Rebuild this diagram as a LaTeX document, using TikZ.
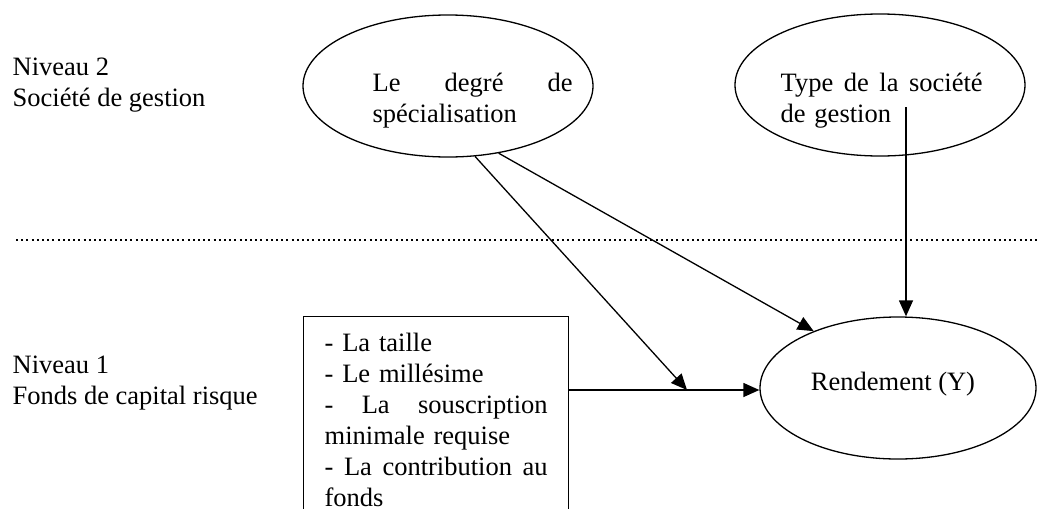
\documentclass[tikz,border=0pt]{standalone}
\usepackage{fontspec}
\setmainfont{Liberation Serif}
\usetikzlibrary{shapes.geometric,arrows.meta}

\begin{document}
\begin{tikzpicture}[x=1pt,y=-1pt,>={Triangle[length=16pt,width=14pt]},
  font=\fontsize{26.5}{31}\selectfont, line width=1.3pt,
  var/.style={draw, ellipse, inner sep=0pt, minimum width=290pt, minimum height=142pt},
  txt/.style={inner sep=0pt, anchor=north west, align=left}]
\useasboundingbox (0,0) rectangle (1037,509);

% Draw levels
\node[txt] (niv2) at (12,57) {Niveau 2\\Société de gestion};
\node[txt] (niv1) at (12,355) {Niveau 1\\Fonds de capital risque};
\draw[line width=2.2pt, dash pattern=on 2pt off 3.2pt] (16,240) -- (1037,240);

% Draw variables of level 2
\node[var] (deg) at (448,86) {};
\node[txt, text width=200pt] (degtxt) at (372,72) {Le\hfill degré\hfill de\\spécialisation};
\node[var] (type) at (880,85) {};
\node[txt, text width=202pt] (typetxt) at (780,72) {Type\hfill de\hfill la\hfill société\\de gestion};

% Draw variables of level 1
\node[draw, anchor=north west, inner sep=0pt, minimum width=265pt, minimum height=240pt] (box) at (303,316) {};
\node[txt, text width=223pt] (boxtxt) at (324,332) {- La taille\\- Le millésime\\-\hfill La\hfill souscription\\minimale requise\\-\hfill La\hfill contribution\hfill au\\fonds};
\node[var, minimum width=276pt] (rend) at (898,388) {};
\node[inner sep=0pt] (rendtxt) at (893,384) {Rendement (Y)};

% Draw effects
\coordinate (join) at (687,390);
\coordinate (tstart) at (906,107);
\draw[->] (box.east |- join) -- (rend.west |- join);
\draw[->] (deg.-69.5) -- (join);
\draw[->] (deg.-53.8) -- (rend.146);
\draw[->] (tstart) -- (tstart |- rend.north);

\end{tikzpicture}
\end{document}
